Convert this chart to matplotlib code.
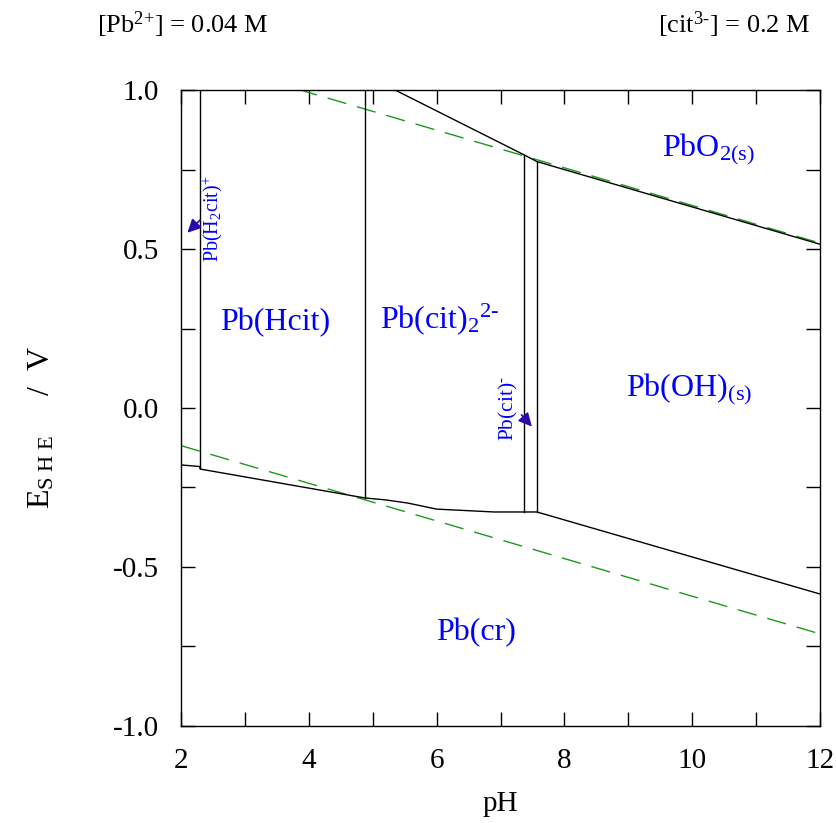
import matplotlib
matplotlib.use("Agg")
import matplotlib.pyplot as plt

matplotlib.rcParams['font.family'] = ['Liberation Serif', 'DejaVu Serif']
matplotlib.rcParams['mathtext.fontset'] = 'custom'
matplotlib.rcParams['mathtext.rm'] = 'Liberation Serif'
matplotlib.rcParams['mathtext.it'] = 'Liberation Serif:italic'
matplotlib.rcParams['mathtext.bf'] = 'Liberation Serif:bold'
matplotlib.rcParams['axes.unicode_minus'] = False

# vertical boundaries: pH, E bottom, E top
vert_ph = [2.30, 4.88, 7.37, 7.57]
vert_lo = [-0.190, -0.283, -0.327, -0.327]
vert_hi = [1.0, 1.0, 0.796, 0.775]

# upper boundary (PbO2)
up_ph = [5.35, 7.37, 7.57, 12.0]
up_e = [1.0, 0.796, 0.775, 0.515]

# lower boundary (Pb metal)
lo_ph = [2.0, 2.29, 2.30, 4.88, 5.2, 5.55, 6.0, 6.9, 7.57, 12.0]
lo_e = [-0.179, -0.184, -0.192, -0.283, -0.289, -0.299, -0.318, -0.327, -0.327, -0.585]

# water stability lines
h2o_ph = [2.0, 12.0]
o2_e = [1.229 - 0.0592 * 2, 1.229 - 0.0592 * 12]
h2_e = [-0.0592 * 2, -0.0592 * 12]

# region labels: text, pH, E
labels = [r'Pb(Hcit)', r'Pb(cit)$_2$$^{2\text{-}}$', r'PbO$_{2\mathrm{(s)}}$',
          r'Pb(OH)$_{\mathrm{(s)}}$', r'Pb(cr)']
lab_ph = [3.47, 6.05, 10.25, 9.95, 6.62]
lab_e = [0.27, 0.28, 0.815, 0.06, -0.705]

fig = plt.figure(figsize=(8.37, 8.23), dpi=100)
ax = fig.add_axes([0.2163, 0.1179, 0.7634, 0.7727])

ax.plot(h2o_ph, o2_e, color='#1a9a1a', lw=1, dashes=(14, 8))
ax.plot(h2o_ph, h2_e, color='#1a9a1a', lw=1, dashes=(14, 8))
for x, lo, hi in zip(vert_ph, vert_lo, vert_hi):
    ax.plot([x, x], [lo, hi], color='black', lw=1)
ax.plot(up_ph, up_e, color='black', lw=1)
ax.plot(lo_ph, lo_e, color='black', lw=1)

for t, x, y in zip(labels, lab_ph, lab_e):
    ax.text(x, y, t, color='#0000ff', fontsize=23, ha='center', va='center')

# small species with arrows
ax.text(2.50, 0.595, r'Pb(H$_2$cit)$^{\text{+}}$', color='#0000ff', fontsize=14.5,
        rotation=90, ha='center', va='center')
ax.annotate('', xy=(2.07, 0.545), xytext=(2.33, 0.598),
            arrowprops=dict(arrowstyle='-|>', color='#2a0ab0', lw=1.2, mutation_scale=20))
ax.text(7.13, 0.0, r'Pb(cit)$^{\text{-}}$', color='#0000ff', fontsize=15.5,
        rotation=90, ha='center', va='center')
ax.annotate('', xy=(7.52, -0.065), xytext=(7.30, -0.015),
            arrowprops=dict(arrowstyle='-|>', color='#2a0ab0', lw=1.2, mutation_scale=20))

ax.set_xlim(2, 12)
ax.set_ylim(-1, 1)
ax.set_xticks([2, 4, 6, 8, 10, 12])
ax.set_xticks([3, 5, 7, 9, 11], minor=True)
ax.set_yticks([-1.0, -0.5, 0.0, 0.5, 1.0])
ax.set_yticklabels(['-1.0', '-0.5', '0.0', '0.5', '1.0'])
ax.set_yticks([-0.75, -0.25, 0.25, 0.75], minor=True)
ax.tick_params(which='both', direction='in', top=True, right=True,
               length=10, width=1, labelsize=21, pad=16)
for s in ax.spines.values():
    s.set_linewidth(1)

ax.set_xlabel('pH', fontsize=21, labelpad=12)
ax.set_ylabel(r'E$_{\mathrm{S\ H\ E}}$     /  V', fontsize=23)
ax.yaxis.set_label_coords(-0.195, 0.47)

fig.text(97 / 837, 1 - 25 / 823, r'[Pb$^{2\text{+}}$] = 0.04 M', fontsize=19, ha='left', va='center')
fig.text(810 / 837, 1 - 25 / 823, r'[cit$^{3\text{-}}$] = 0.2 M', fontsize=19, ha='right', va='center')

fig.savefig('out.png', dpi=100)
